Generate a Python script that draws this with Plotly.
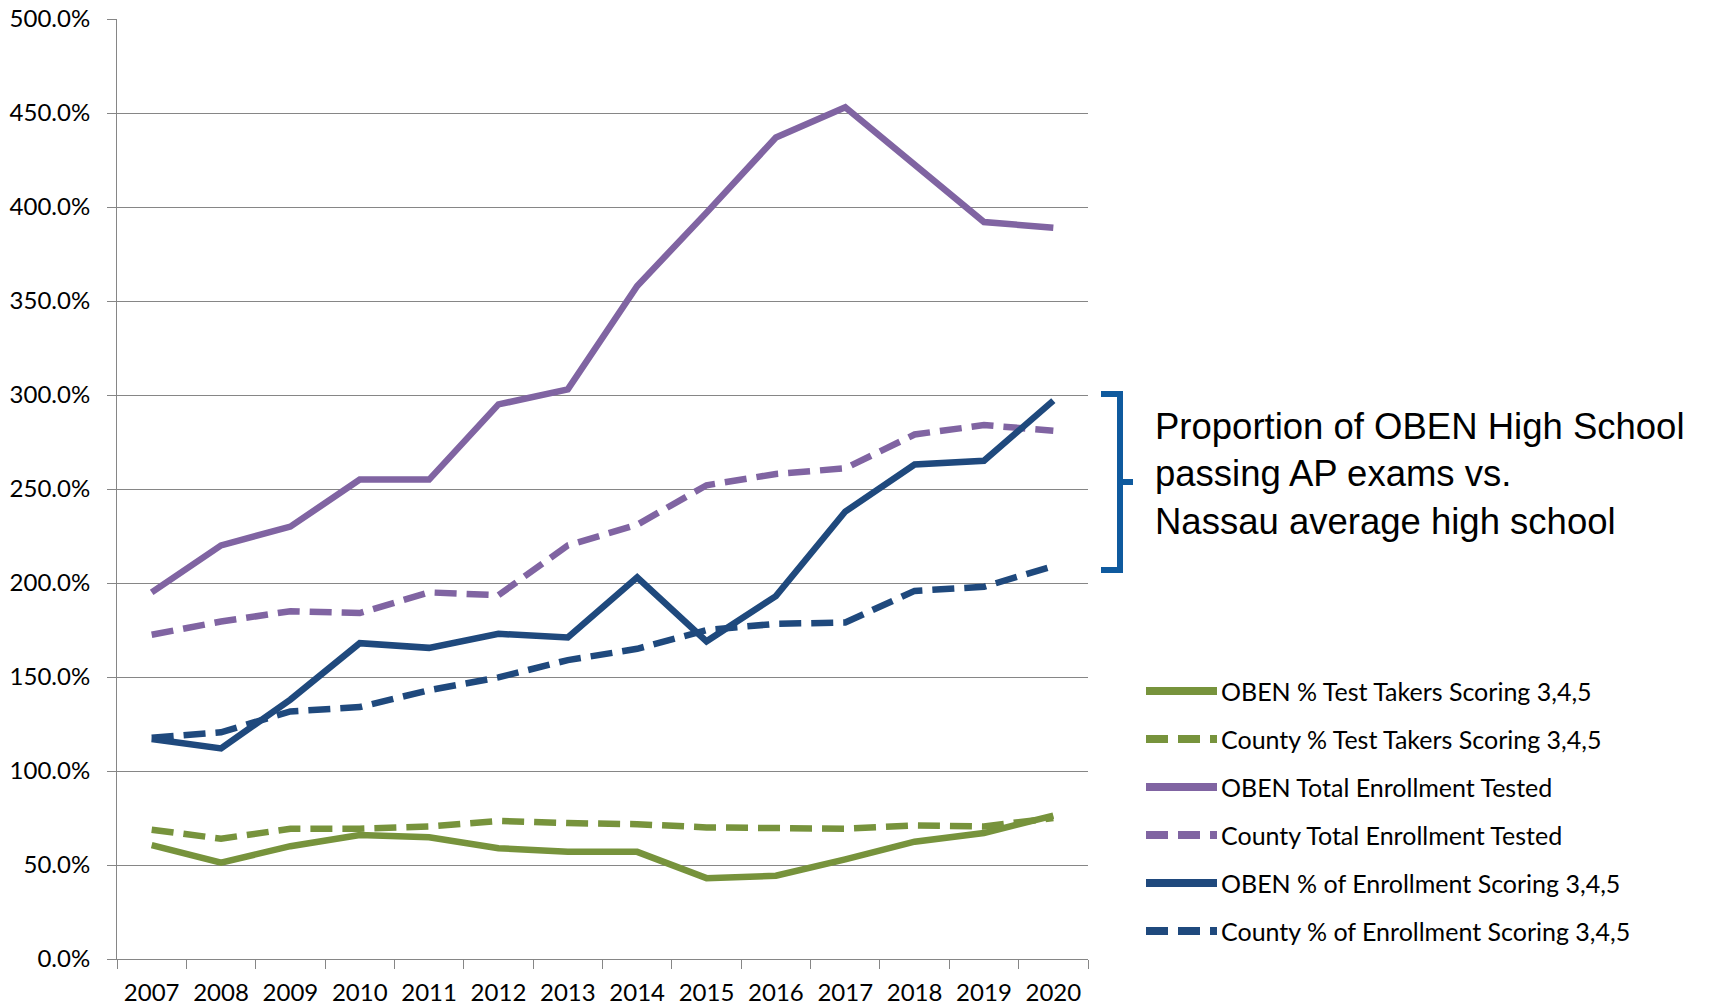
import plotly.graph_objects as go

# ---------------- data ----------------
years = [str(y) for y in range(2007, 2021)]
oben_test_takers = [60.6, 51.3, 60.0, 65.9, 64.7, 58.9, 57.0, 57.0, 43.0, 44.3, 53.0, 62.4, 67.0, 76.3]
county_test_takers = [68.8, 64.0, 69.3, 69.3, 70.5, 73.4, 72.3, 71.7, 70.0, 70.0, 69.3, 71.0, 70.5, 75.0]
oben_total_enrollment = [195, 220, 230, 255, 255, 295, 303, 358, 397, 437, 453, 422, 392, 389]
county_total_enrollment = [172.5, 179.5, 185, 184, 195, 193.5, 220, 231, 252, 258, 261, 279, 284, 281]
oben_enrollment_scoring = [117, 112, 138, 168, 165.5, 173, 171, 203, 169, 193, 238, 263, 265, 297]
county_enrollment_scoring = [117.7, 120.6, 131.7, 134, 143, 149.8, 159, 165, 175, 178.3, 179, 195.8, 198, 209]

series_names = [
    "OBEN % Test Takers Scoring 3,4,5",
    "County % Test Takers Scoring 3,4,5",
    "OBEN Total Enrollment Tested",
    "County Total Enrollment Tested",
    "OBEN % of Enrollment Scoring 3,4,5",
    "County % of Enrollment Scoring 3,4,5",
]
series_values = [oben_test_takers, county_test_takers, oben_total_enrollment,
                 county_total_enrollment, oben_enrollment_scoring, county_enrollment_scoring]
y_ticks = list(range(0, 501, 50))
annotation_text = "Proportion of OBEN High School<br>passing AP exams vs.<br>Nassau average high school"

# ---------------- styles ----------------
GREEN = "#77933C"
PURPLE = "#8064A2"
NAVY = "#1F497D"
BRACKET = "#0F5A9E"
colors = [GREEN, GREEN, PURPLE, PURPLE, NAVY, NAVY]
dashes = ["solid", "22px,10px", "solid", "22px,10px", "solid", "22px,10px"]

W, H = 1718, 1006
L, R, T, B = 117, 1088, 19, 959
FONT = "Lato"


def px_x(px):
    return (px - L) / (R - L)


def px_y(py):
    return (B - py) / (B - T)


fig = go.Figure()
for name, vals, col, dash in zip(series_names, series_values, colors, dashes):
    fig.add_trace(go.Scatter(
        x=years, y=vals, mode="lines", name=name,
        line=dict(color=col, width=6.5, dash=dash),
        showlegend=False,
    ))

shapes = []
annotations = []

# custom legend (long line samples like the original)
leg_y0 = 691
leg_step = 48
for i, (name, col, dash) in enumerate(zip(series_names, colors, dashes)):
    py = leg_y0 + i * leg_step
    shapes.append(dict(type="line", xref="paper", yref="paper",
                       x0=px_x(1146), x1=px_x(1217), y0=px_y(py), y1=px_y(py),
                       line=dict(color=col, width=8, dash=dash)))
    annotations.append(dict(xref="paper", yref="paper", x=px_x(1219), y=px_y(py),
                            xanchor="left", yanchor="middle", showarrow=False,
                            text=name, font=dict(family=FONT, size=25, color="#000000")))

# bracket
bx0, bx1, bx2 = px_x(1101), px_x(1120), px_x(1133)
by_top, by_bot = px_y(394), px_y(570)
by_mid = (by_top + by_bot) / 2
path = (f"M {bx0},{by_top} L {bx1},{by_top} L {bx1},{by_bot} L {bx0},{by_bot} "
        f"M {bx1},{by_mid} L {bx2},{by_mid}")
shapes.append(dict(type="path", xref="paper", yref="paper", path=path,
                   line=dict(color=BRACKET, width=6)))

annotations.append(dict(xref="paper", yref="paper", x=px_x(1153), y=px_y(474),
                        xanchor="left", yanchor="middle", align="left", showarrow=False,
                        text=annotation_text,
                        font=dict(family="Liberation Sans", size=36.5, color="#000000")))

fig.update_layout(
    width=W, height=H,
    margin=dict(l=L, r=W - R, t=T, b=H - B, pad=0, autoexpand=False),
    paper_bgcolor="white", plot_bgcolor="white",
    font=dict(family=FONT, size=22, color="#000000"),
    shapes=shapes, annotations=annotations,
    showlegend=False,
)
fig.update_xaxes(
    type="category", range=[-0.5, 13.5], automargin=False,
    showgrid=False, showline=True, linecolor="#868686", linewidth=1,
    ticks="outside", tickson="boundaries", ticklen=9, tickcolor="#868686",
    tickfont=dict(family=FONT, size=24, color="#000000"),
    ticklabelstandoff=12,
)
fig.update_yaxes(
    range=[0, 500], tickvals=y_ticks, ticktext=[f"{v:.1f}%" for v in y_ticks],
    automargin=False,
    showgrid=True, gridcolor="#868686", gridwidth=1,
    showline=True, linecolor="#868686", linewidth=1, zeroline=False,
    ticks="outside", ticklen=9, tickcolor="#868686",
    tickfont=dict(family=FONT, size=24, color="#000000"),
    ticklabelstandoff=12,
)

fig.write_html(
    "out.html",
    config={"displayModeBar": False},
    post_script="document.body.style.margin='0';document.body.style.overflow='hidden';",
)
